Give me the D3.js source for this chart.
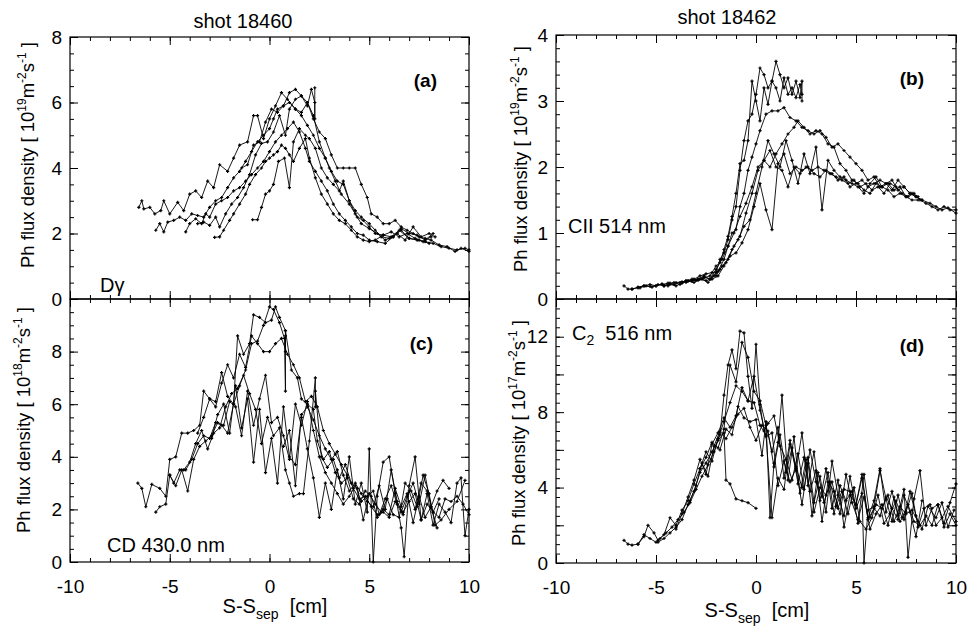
<!DOCTYPE html>
<html><head><meta charset="utf-8">
<script src="https://cdn.jsdelivr.net/npm/d3@7"></script>
<style>
body{margin:0;background:#fff;}
text{font-family:"Liberation Sans",Arial,Helvetica,sans-serif;fill:#000;}
</style>
</head><body>
<svg id="chart" width="970" height="629"></svg>
<script>
// ---------- tick values ----------
const xMajorTicks = [-10, -5, 0, 5, 10];
const yTicksA = [0, 2, 4, 6, 8];
const yTicksB = [0, 1, 2, 3, 4];
const yTicksC = [0, 2, 4, 6, 8];
const yTicksD = [0, 4, 8, 12];

// ---------- panel (a): D-gamma, shot 18460 ----------
const dgX = [
 [-6.55,-6.4,-6.3,-6.0,-5.75,-5.45,-5.3,-5.0,-4.6,-4.3,-4.0,-3.7,-3.4,-3.1,-2.8,-2.5,-2.1,-1.8,-1.5,-1.1,-0.8,-0.6,-0.3,0.0,0.3,0.6,0.9,1.3,1.6,1.9,2.2,2.5,2.8,3.0,3.3,3.6,4.0,4.4,4.7,5.0,5.3,5.7,6.1,6.5,7.0,7.4,7.8,8.2,8.6,9.0,9.4,9.8,10.0],
 [-5.7,-5.5,-5.3,-5.1,-4.8,-4.5,-4.2,-3.9,-3.6,-3.3,-3.0,-2.7,-2.4,-2.1,-1.8,-1.5,-1.2,-0.9,-0.6,-0.3,0.0,0.2,0.4,0.7,1.0,1.3,1.6,1.9,2.2,2.5,2.8,3.1,3.4,3.7,4.0,4.3,4.6,5.0,5.3,5.6,6.0,6.4,6.8,7.2,7.6,8.0,8.3],
 [-4.2,-4.0,-3.7,-3.4,-3.2,-3.0,-2.7,-2.4,-2.1,-1.8,-1.5,-1.2,-0.9,-0.6,-0.3,0.0,0.3,0.6,0.9,1.2,1.5,1.8,2.0,2.3,2.6,2.9,3.2,3.5,3.8,4.1,4.4,4.7,5.0,5.4,5.8,6.2,6.6,7.0,7.5,8.0],
 [-2.75,-2.5,-2.3,-2.0,-1.8,-1.5,-1.2,-1.0,-0.7,-0.4,-0.2,0.0,0.2,0.4,0.6,0.8,1.0,1.2,1.5,1.8,2.0,2.3,2.6,2.9,3.2,3.5,3.8,4.1,4.4,4.7,5.0,5.3,5.7,6.1,6.5,6.9,7.3,7.7,8.1],
 [-0.85,-0.6,-0.4,-0.2,0.0,0.2,0.45,0.75,1.0,1.2,1.5,1.8,2.0,2.3,2.6,2.9,3.2,3.5,3.7,4.0,4.3,4.6,5.0,5.4,5.8,6.2,6.6,7.0,7.4,7.8,8.2],
 [-3.6,-3.3,-3.0,-2.7,-2.5,-2.2,-1.9,-1.6,-1.3,-1.0,-0.7,-0.4,-0.1,0.2,0.5,0.8,1.0,1.3,1.6,1.9,2.1,2.27,2.27,2.27],
 [-1.4,-1.1,-0.8,-0.5,-0.2,0.1,0.4,0.7,1.0,1.3,1.6,1.9,2.2,2.5,2.8,3.1,3.4,3.7,4.0,4.3,4.6,4.9,5.1,5.4,5.7,6.0,6.3,6.6,6.9,7.2,7.5,7.8,8.1,8.5,8.9,9.3,9.6,10.0]
];
const dgY = [
 [2.8,3.0,2.75,2.8,2.6,2.7,3.0,2.6,2.95,2.7,3.2,3.3,3.1,3.6,3.4,4.1,3.9,4.3,4.7,4.8,5.6,5.6,4.9,5.5,5.9,6.3,6.1,5.8,5.6,5.3,5.0,4.6,4.3,4.0,3.6,3.2,2.9,2.5,2.4,2.2,2.0,1.95,1.9,2.1,1.85,1.8,1.75,1.7,1.6,1.55,1.5,1.55,1.5],
 [2.1,2.3,2.05,2.35,2.4,2.5,2.4,2.6,2.55,2.5,2.8,3.0,3.1,3.4,3.7,3.9,4.2,4.5,4.8,5.0,5.2,5.5,5.8,5.9,6.3,6.4,6.2,6.0,5.6,4.8,4.3,3.9,3.6,3.5,3.0,2.7,2.5,2.3,2.1,1.9,1.85,2.0,1.8,2.2,1.9,2.0,1.9],
 [2.05,2.3,2.45,2.3,2.6,2.5,2.9,3.0,3.1,3.3,3.4,3.6,3.8,4.0,4.2,4.5,4.8,5.0,5.2,5.4,5.1,4.6,4.2,3.9,3.6,3.3,2.9,2.6,2.4,2.2,2.0,1.95,1.8,1.75,1.7,1.9,2.1,1.85,1.8,1.7],
 [1.88,1.9,2.1,2.4,2.6,2.9,3.2,3.5,3.8,4.0,4.2,4.3,4.4,4.5,4.7,4.6,4.4,4.2,4.6,4.9,4.3,3.7,3.2,2.9,2.6,2.4,2.3,2.1,1.9,1.8,1.75,1.8,1.95,2.05,1.9,2.0,1.85,1.75,1.9],
 [2.42,2.42,2.8,3.2,3.3,3.5,4.2,4.3,3.4,4.8,5.2,5.0,4.9,4.6,4.0,3.7,3.5,3.3,3.6,3.0,2.6,2.3,2.15,2.0,1.8,1.9,2.15,2.0,1.95,1.8,2.0],
 [2.3,2.35,2.25,2.5,2.2,2.6,2.9,3.1,3.4,3.8,4.4,4.75,4.8,5.1,5.6,5.0,5.8,6.1,6.2,5.9,6.4,6.0,5.5,6.45],
 [4.0,4.1,4.7,4.8,5.4,5.8,5.7,5.9,6.0,5.8,5.7,6.0,5.5,5.1,4.9,4.4,4.0,4.0,4.0,4.0,3.5,3.1,2.6,2.5,2.3,2.3,2.4,2.2,2.1,2.0,1.9,1.85,1.8,1.65,1.6,1.45,1.55,1.45]
];

// ---------- panel (b): CII 514 nm, shot 18462 ----------
const ciiX = [
 [-6.6,-6.4,-6.2,-5.9,-5.6,-5.3,-5.0,-4.7,-4.4,-4.1,-3.8,-3.5,-3.2,-2.9,-2.6,-2.3,-2.0,-1.8,-1.6,-1.4,-1.2,-1.0,-0.8,-0.6,-0.4,-0.2,0.0,0.2,0.4,0.6,0.8,1.0,1.2,1.4,1.6,1.8,2.0,2.2,2.3,2.3],
 [-6.2,-5.9,-5.6,-5.3,-5.0,-4.7,-4.4,-4.1,-3.8,-3.5,-3.2,-2.9,-2.6,-2.3,-2.0,-1.8,-1.6,-1.4,-1.2,-1.0,-0.8,-0.6,-0.4,-0.2,0.0,0.2,0.4,0.6,0.8,1.0,1.2,1.4,1.6,1.8,2.0,2.2,2.3],
 [-5.8,-5.5,-5.2,-4.9,-4.6,-4.3,-4.0,-3.7,-3.4,-3.1,-2.8,-2.5,-2.2,-1.9,-1.6,-1.4,-1.2,-1.0,-0.8,-0.6,-0.4,-0.2,0.0,0.2,0.5,0.8,1.1,1.4,1.7,2.0,2.3,2.6,2.9,3.2,3.5,3.8,4.1,4.4,4.7,5.0,5.3,5.6,5.9,6.2,6.5,6.8,7.1,7.4,7.7,8.0,8.3],
 [-4.6,-4.3,-4.0,-3.7,-3.4,-3.1,-2.8,-2.5,-2.2,-1.9,-1.6,-1.3,-1.0,-0.7,-0.4,-0.1,0.2,0.5,0.8,1.1,1.4,1.7,2.0,2.3,2.6,2.9,3.2,3.5,3.8,4.1,4.4,4.7,5.0,5.3,5.6,5.9,6.2,6.5,6.8,7.1,7.4,7.7,8.0,8.3,8.7,9.0,9.3,9.6,10.0],
 [-3.0,-2.7,-2.4,-2.1,-1.8,-1.5,-1.2,-0.9,-0.6,-0.3,0.0,0.3,0.6,0.9,1.2,1.5,1.8,2.1,2.4,2.7,3.0,3.3,3.6,3.9,4.2,4.5,4.8,5.1,5.4,5.7,6.0,6.3,6.6,6.9,7.2,7.5,7.8,8.1],
 [-3.5,-3.2,-2.9,-2.6,-2.3,-2.0,-1.7,-1.4,-1.1,-0.8,-0.5,-0.2,0.1,0.4,0.7,1.0,1.3,1.6,1.9,2.2,2.5,2.8,3.1,3.4,3.7,4.0,4.3,4.6,4.9,5.2,5.5,5.8,6.1,6.4,6.7,7.0,7.3,7.6,7.9,8.2,8.5,8.8,9.1,9.4,9.7,10.0],
 [-2.0,-1.7,-1.4,-1.1,-0.8,-0.5,-0.2,0.1,0.4,0.7,1.0,1.3,1.6,1.9,2.1,2.4,2.7,3.0,3.3,3.6,3.9,4.2,4.5,4.8,5.1,5.4,5.7,6.0,6.3,6.6,6.9,7.2,7.5,7.8,8.1]
];
const ciiY = [
 [0.2,0.15,0.15,0.17,0.2,0.22,0.2,0.23,0.2,0.25,0.22,0.28,0.27,0.3,0.35,0.3,0.4,0.6,0.7,0.9,1.2,1.4,1.95,2.4,2.7,2.8,3.1,3.5,3.4,3.2,3.3,3.6,3.4,3.2,3.35,3.1,3.3,3.05,3.3,3.0],
 [0.15,0.18,0.2,0.19,0.2,0.22,0.24,0.22,0.25,0.27,0.3,0.28,0.32,0.35,0.5,0.55,0.75,0.95,1.25,1.6,2.05,2.1,2.4,3.3,3.0,2.7,3.2,2.95,3.3,3.2,3.0,3.35,3.1,3.2,3.05,3.25,3.1],
 [0.17,0.2,0.18,0.22,0.2,0.24,0.25,0.26,0.28,0.3,0.35,0.38,0.4,0.42,0.6,0.8,1.0,1.05,1.4,1.6,1.95,2.15,2.35,2.55,2.8,2.85,2.85,2.9,2.75,2.7,2.6,2.55,2.5,2.55,2.45,2.3,2.35,2.25,2.15,2.05,1.95,1.8,1.85,1.7,1.75,1.65,1.8,1.7,1.6,1.55,1.5],
 [0.2,0.22,0.2,0.24,0.27,0.25,0.3,0.28,0.3,0.35,0.5,0.65,0.7,0.85,1.05,1.4,1.75,1.35,1.05,2.05,2.2,1.9,2.0,1.95,2.0,1.9,1.85,1.95,1.9,1.8,1.85,1.7,1.75,1.8,1.7,1.75,1.8,1.75,1.8,1.65,1.7,1.6,1.55,1.5,1.45,1.4,1.35,1.38,1.3],
 [0.28,0.3,0.25,0.35,0.45,0.55,0.75,0.9,1.1,1.2,1.6,2.0,2.4,2.2,2.0,2.4,2.1,1.75,2.2,1.9,2.3,1.35,2.1,1.95,1.85,1.8,1.75,1.7,1.6,1.75,1.85,1.7,1.75,1.65,1.7,1.55,1.6,1.55],
 [0.25,0.28,0.3,0.33,0.3,0.45,0.6,0.8,1.0,1.25,1.45,1.7,2.0,2.1,2.25,2.0,1.95,1.7,2.0,1.9,2.0,1.95,2.0,1.95,1.9,1.85,1.8,1.75,1.8,1.7,1.75,1.65,1.7,1.6,1.75,1.7,1.6,1.55,1.6,1.5,1.45,1.4,1.35,1.4,1.35,1.35],
 [0.35,0.5,0.6,0.8,0.95,1.3,1.6,1.95,2.1,2.0,2.2,2.35,2.5,2.6,2.7,2.6,2.5,2.55,2.5,2.35,2.3,2.05,1.95,1.8,1.75,1.65,1.6,1.75,1.7,1.65,1.55,1.6,1.55,1.5,1.5]
];

// ---------- panel (c): CD 430.0 nm, shot 18460 ----------
const cdX = [
 [-6.6,-6.4,-6.2,-5.9,-5.5,-5.2,-5.0,-4.7,-4.4,-4.1,-3.8,-3.5,-3.3,-3.0,-2.7,-2.4,-2.1,-1.8,-1.6,-1.3,-1.0,-0.8,-0.5,-0.2,0.1,0.3,0.5,0.8,0.8,0.8],
 [-5.7,-5.5,-5.2,-5.0,-4.8,-4.5,-4.2,-3.9,-3.6,-3.3,-3.0,-2.7,-2.4,-2.1,-1.8,-1.5,-1.2,-0.9,-0.6,-0.3,0.0,0.2,0.5,0.75,0.8,0.8,1.1,1.4,1.6,1.9,2.2,2.4,2.7,3.0,3.3,3.6,3.9,4.2,4.5,4.8,5.1,5.4,5.7,6.0,6.3,6.6,6.9,7.2,7.5,7.8,8.1,8.4],
 [-5.0,-4.7,-4.4,-4.1,-3.8,-3.5,-3.2,-2.9,-2.6,-2.3,-2.0,-1.7,-1.4,-1.1,-0.8,-0.5,-0.2,0.1,0.4,0.7,1.0,1.3,1.6,1.9,2.2,2.5,2.8,3.1,3.4,3.7,4.0,4.3,4.6,4.9,5.2,5.5,5.8,6.1,6.4,6.7,7.0,7.3,7.6,7.9,8.2,8.5,8.8,9.1,9.4,9.7,10.0],
 [-4.3,-4.0,-3.7,-3.4,-3.1,-2.8,-2.5,-2.2,-1.9,-1.6,-1.3,-1.0,-0.7,-0.4,-0.1,0.2,0.5,0.8,1.0,1.2,1.5,1.7,2.0,2.3,2.3,2.3,2.6,2.9,3.2,3.5,3.8,4.1,4.4,4.7,5.0,5.3,5.6,5.9,6.2,6.5,6.8,7.1,7.4,7.7,8.0,8.3,8.6,9.0,9.4,9.8],
 [-2.9,-2.6,-2.3,-2.0,-1.7,-1.4,-1.1,-0.8,-0.5,-0.2,0.1,0.4,0.7,1.0,1.3,1.6,1.9,2.2,2.5,2.8,3.1,3.4,3.7,4.0,4.3,4.6,4.9,5.0,5.2,5.4,5.7,6.0,6.3,6.6,6.75,7.0,7.3,7.6,7.9,8.2,8.5,8.8,9.1,9.4,9.6,9.8,10.0],
 [-3.6,-3.3,-3.0,-2.7,-2.4,-2.1,-1.8,-1.5,-1.2,-0.9,-0.6,-0.3,0.0,0.3,0.6,0.9,1.2,1.5,1.8,2.1,2.4,2.7,3.0,3.3,3.6,3.9,4.2,4.5,4.8,5.1,5.4,5.7,6.0,6.3,6.6,6.9,7.2,7.5,7.8,8.1,8.4,8.7,9.0],
 [0.7,1.0,1.3,1.6,1.9,2.2,2.5,2.8,3.1,3.4,3.7,4.0,4.3,4.6,4.9,5.2,5.5,5.8,6.1,6.4,6.7,7.0,7.3,7.6,7.9,8.2,8.5]
];
const cdY = [
 [3.0,2.8,2.1,2.95,2.8,2.5,3.9,4.0,4.9,4.9,5.0,5.2,6.5,6.2,6.1,7.2,6.3,6.0,8.6,7.9,8.3,9.4,9.3,9.1,9.2,9.7,9.3,8.8,8.0,8.6],
 [1.9,2.1,2.2,3.3,3.0,3.5,3.5,3.9,4.5,4.8,4.7,5.3,5.2,4.9,6.0,6.7,7.3,8.3,8.4,9.0,9.7,9.6,9.1,8.5,6.5,8.8,7.3,7.0,6.2,6.0,5.8,4.6,3.9,4.2,3.4,3.0,3.2,2.4,2.2,2.7,2.5,1.7,2.0,1.8,2.8,2.1,2.6,1.5,2.5,1.7,2.1,1.3],
 [3.3,2.9,3.5,2.7,3.9,4.4,4.6,4.8,5.3,5.2,6.1,5.9,4.8,6.5,5.2,6.2,7.1,5.3,5.5,4.8,3.9,6.0,5.2,6.1,5.0,4.0,3.4,3.0,2.6,2.2,2.5,2.9,2.3,2.5,2.7,1.8,2.4,2.9,2.2,1.9,2.3,2.6,1.6,2.2,1.9,1.7,2.4,2.3,2.5,2.2,1.8],
 [3.5,3.8,4.5,5.0,4.3,4.9,5.1,5.9,6.4,6.6,7.1,6.4,5.8,4.5,5.5,4.8,5.1,3.5,3.0,2.5,2.6,2.6,4.6,7.0,5.9,6.5,4.0,3.6,3.9,3.2,3.7,3.0,2.8,1.6,2.6,2.2,1.9,2.4,1.8,1.7,3.0,2.7,2.1,3.3,2.6,1.4,1.6,2.0,2.3,3.1],
 [4.7,5.6,6.0,4.9,6.7,5.1,6.2,3.8,5.8,3.4,4.7,3.0,5.9,4.0,3.7,5.5,4.3,3.2,1.7,3.0,2.0,3.5,2.4,4.0,2.2,3.0,1.9,4.3,0.0,2.5,3.8,4.0,2.6,1.3,0.2,2.9,4.0,1.6,2.6,1.4,2.2,1.9,1.5,3.0,3.2,1.0,2.0],
 [4.9,5.5,6.2,5.9,6.8,7.5,7.0,7.9,7.4,8.6,8.3,8.0,8.0,8.3,8.5,7.9,7.5,7.0,6.1,6.3,5.9,5.0,4.5,4.1,3.7,3.3,2.8,2.4,2.5,2.1,1.8,1.9,1.7,2.3,1.9,2.5,3.0,2.2,3.3,2.1,2.7,3.1,2.8],
 [4.4,5.0,2.9,5.6,5.9,5.4,4.8,4.3,3.9,4.2,3.3,2.7,3.0,2.6,2.3,2.1,2.9,2.0,3.5,2.3,1.8,2.7,2.0,3.0,2.7,1.9,2.4]
];

// ---------- panel (d): C2 516 nm, shot 18462 ----------
const c2X = [
 [-6.6,-6.4,-6.2,-5.9,-5.6,-5.3,-5.0,-4.8,-4.5,-4.2,-3.9,-3.6,-3.3,-3.0,-2.7,-2.4,-2.1,-1.8,-1.6,-1.4,-1.2,-1.0,-0.8,-0.6,-0.4,-0.2,0.0,0.2,0.4,0.6,0.9,1.2,1.5,1.8,2.1,2.4,2.7,3.0,3.3,3.6,3.9,4.2,4.5,4.8,5.1,5.4,5.7,6.0,6.3,6.6,6.9,7.2,7.5,7.8,8.1],
 [-5.9,-5.6,-5.4,-5.1,-4.9,-4.6,-4.3,-4.0,-3.7,-3.4,-3.1,-2.8,-2.5,-2.2,-1.9,-1.6,-1.3,-1.0,-0.7,-0.4,-0.1,0.2,0.5,0.8,1.1,1.4,1.7,2.0,2.3,2.6,2.9,3.2,3.5,3.8,4.1,4.4,4.7,5.0,5.3,5.4,5.6,5.9,6.2,6.5,6.8,7.1,7.4,7.7,8.0,8.3,8.6,9.0,9.3,9.6,9.9],
 [-4.9,-4.6,-4.3,-4.0,-3.7,-3.4,-3.1,-2.8,-2.5,-2.2,-1.9,-1.6,-1.5,-1.3,-1.0,-0.7,-0.4,0.0],
 [-4.0,-3.7,-3.4,-3.1,-2.8,-2.5,-2.2,-1.9,-1.6,-1.3,-1.0,-0.7,-0.4,-0.1,0.2,0.5,0.8,1.1,1.4,1.7,2.0,2.3,2.6,2.9,3.2,3.5,3.8,4.1,4.4,4.7,5.0,5.3,5.6,5.9,6.2,6.5,6.8,7.1,7.4,7.6,7.9,8.2,8.5,8.8,9.1,9.4,9.7,10.0],
 [-3.3,-3.0,-2.7,-2.4,-2.1,-1.8,-1.5,-1.2,-0.9,-0.6,-0.3,0.0,0.3,0.6,0.9,1.2,1.5,1.8,2.1,2.4,2.7,3.0,3.3,3.6,3.9,4.2,4.5,4.8,5.1,5.4,5.7,6.0,6.3,6.6,6.9,7.2,7.5,7.8,8.1,8.4,8.7,9.0,9.3,9.6,10.0],
 [-2.8,-2.5,-2.2,-1.9,-1.6,-1.3,-1.0,-0.7,-0.4,-0.1,0.2,0.5,0.8,1.1,1.4,1.7,2.0,2.3,2.6,2.9,3.2,3.5,3.8,4.1,4.4,4.7,5.0,5.3,5.6,5.9,6.2,6.5,6.8,7.1,7.4,7.7,8.0,8.3],
 [-1.8,-1.5,-1.2,-0.9,-0.6,-0.3,0.0,0.3,0.5,0.7,0.9,1.1,1.3,1.6,1.9,2.2,2.5,2.8,3.1,3.4,3.7,4.0,4.3,4.6,4.9,5.2,5.5,5.8,6.1,6.4,6.7,7.0,7.3,7.6,7.9,8.2,8.5,8.8,9.1,9.4,9.7,10.0]
];
const c2Y = [
 [1.2,1.0,0.95,1.0,1.5,1.3,1.1,1.3,1.6,1.9,2.3,2.7,3.2,3.9,4.6,5.2,5.9,6.8,8.9,10.5,11.3,10.3,12.3,12.2,9.9,8.2,11.6,8.4,7.0,7.4,7.8,6.2,5.5,4.4,5.8,3.9,6.0,4.3,3.5,4.8,2.6,4.1,3.3,3.8,2.1,4.7,2.4,3.1,2.9,3.6,2.2,3.0,2.6,2.8,2.2],
 [1.0,1.4,2.0,1.6,1.2,1.5,2.4,2.0,2.8,3.3,4.2,5.0,5.6,6.4,6.1,7.1,10.5,9.6,11.7,10.9,9.1,8.6,7.3,5.9,7.2,4.5,6.5,5.1,4.0,5.6,3.2,4.6,2.7,5.4,3.6,2.5,4.6,2.9,3.7,0.0,2.8,3.0,4.9,3.4,2.2,3.6,2.3,3.8,2.5,1.8,3.0,2.4,3.2,1.9,2.8],
 [1.1,1.3,1.6,1.9,2.3,3.1,3.8,4.8,5.3,5.9,6.5,6.9,4.4,4.2,3.4,3.3,3.2,2.9],
 [1.8,2.6,3.5,4.4,5.5,4.7,6.3,6.9,7.7,7.2,7.8,9.3,8.6,8.5,7.3,6.8,2.4,4.5,3.9,6.3,4.9,6.9,4.1,5.9,3.3,5.0,2.9,4.4,1.9,3.6,3.1,4.7,2.4,3.3,5.0,2.7,3.8,2.5,3.9,0.3,3.4,4.9,2.0,2.9,3.1,2.1,3.2,4.2],
 [3.3,4.1,5.3,4.6,6.2,7.0,6.6,7.2,7.9,8.2,7.2,6.5,7.3,7.0,5.1,6.8,4.8,6.1,4.2,5.6,3.8,4.9,2.2,4.3,3.8,2.6,4.7,3.2,2.3,3.5,1.8,2.6,3.1,2.0,3.5,2.2,2.7,3.7,1.9,2.9,3.1,2.0,2.4,3.0,2.2],
 [5.0,5.9,5.4,6.6,7.5,8.5,9.4,9.1,8.6,9.9,8.1,6.7,6.9,4.1,5.4,4.3,5.0,3.1,5.3,2.7,4.0,3.6,4.3,2.9,3.9,3.8,3.1,4.5,2.3,2.9,2.5,3.5,2.9,2.3,3.6,2.7,1.4,3.3],
 [6.0,7.1,6.8,8.3,7.7,7.5,7.6,5.7,7.5,2.4,5.3,6.4,8.9,4.4,6.7,3.7,5.5,2.5,4.8,3.2,4.3,3.0,3.8,2.6,4.0,2.2,1.8,2.4,3.6,2.1,2.6,3.3,2.4,3.1,2.2,2.0,2.5,2.0,3.1,1.9,2.6,2.0]
];

// ---------- drawing ----------
const svg = d3.select("#chart");
const FONT = '"Liberation Sans", Arial, Helvetica, sans-serif';
const TICK_FONT = 19;

function range(a, b, s) { const r = []; for (let v = a; v <= b + 1e-9; v += s) r.push(+v.toFixed(6)); return r; }
const intFmt = d => (d < 0 ? "-" + Math.abs(d) : String(d));

function drawPanel(cfg) {
  const g = svg.append("g");
  const x = d3.scaleLinear().domain([-10, 10]).range([cfg.left, cfg.right]);
  const y = d3.scaleLinear().domain(cfg.yDomain).range([cfg.bottom, cfg.top]);
  const xMinor = range(-10, 10, 1);
  const yMinor = range(cfg.yDomain[0], cfg.yDomain[1], cfg.yMinorStep);
  const yMajor = range(cfg.yDomain[0], cfg.yDomain[1], cfg.yMajorStep);

  function axisLayer(axis, tr) {
    const a = g.append("g").attr("transform", tr).call(axis);
    a.select(".domain").remove();
    a.selectAll("line").attr("stroke", "#000").attr("stroke-width", 1);
    a.selectAll("text").attr("font-family", FONT).attr("font-size", TICK_FONT).attr("fill", "#000");
    return a;
  }
  // bottom
  axisLayer(d3.axisBottom(x).tickValues(xMinor).tickSize(-4).tickFormat(""), `translate(0,${cfg.bottom})`);
  axisLayer(d3.axisBottom(x).tickValues(xMajorTicks).tickSize(-8).tickPadding(18)
      .tickFormat(cfg.xLabels ? intFmt : () => ""), `translate(0,${cfg.bottom})`);
  // top
  axisLayer(d3.axisTop(x).tickValues(xMinor).tickSize(-4).tickFormat(""), `translate(0,${cfg.top})`);
  axisLayer(d3.axisTop(x).tickValues(xMajorTicks).tickSize(-8).tickFormat(""), `translate(0,${cfg.top})`);
  // left
  axisLayer(d3.axisLeft(y).tickValues(yMinor).tickSize(-4).tickFormat(""), `translate(${cfg.left},0)`);
  axisLayer(d3.axisLeft(y).tickValues(yMajor).tickSize(-8).tickFormat(""), `translate(${cfg.left},0)`);
  axisLayer(d3.axisLeft(y).tickValues(cfg.yLabels).tickSize(0).tickPadding(cfg.labelPad).tickFormat(intFmt),
      `translate(${cfg.left},0)`);
  // right
  axisLayer(d3.axisRight(y).tickValues(yMinor).tickSize(-4).tickFormat(""), `translate(${cfg.right},0)`);
  axisLayer(d3.axisRight(y).tickValues(yMajor).tickSize(-8).tickFormat(""), `translate(${cfg.right},0)`);
  // frame
  g.append("rect").attr("x", cfg.left).attr("y", cfg.top)
    .attr("width", cfg.right - cfg.left).attr("height", cfg.bottom - cfg.top)
    .attr("fill", "none").attr("stroke", "#000").attr("stroke-width", 1.2);

  // data
  const line = d3.line().x(d => x(d[0])).y(d => y(d[1]));
  cfg.xs.forEach((xs, i) => {
    const pts = xs.map((v, j) => [v, cfg.ys[i][j]]);
    g.append("path").attr("d", line(pts)).attr("fill", "none")
      .attr("stroke", "#000").attr("stroke-width", 0.9).attr("stroke-linejoin", "round");
    g.selectAll(null).data(pts).enter().append("path")
      .attr("transform", d => `translate(${x(d[0])},${y(d[1])})`)
      .attr("d", "M-1.6,0H1.6M0,-1.6V1.6")
      .attr("stroke", "#000").attr("stroke-width", 1.2);
  });
  return { g, x, y };
}

function yTitle(cx, cy, exp) {
  const t = svg.append("text")
    .attr("transform", `translate(${cx},${cy}) rotate(-90)`)
    .attr("text-anchor", "middle").attr("font-size", 18.5).attr("font-family", FONT);
  t.append("tspan").text("Ph flux density [ 10");
  t.append("tspan").attr("dy", -8).attr("font-size", 12).text(exp);
  t.append("tspan").attr("dy", 8).text("m");
  t.append("tspan").attr("dy", -8).attr("font-size", 12).text("-2");
  t.append("tspan").attr("dy", 8).text("s");
  t.append("tspan").attr("dy", -8).attr("font-size", 12).text("-1");
  t.append("tspan").attr("dy", 8).text(" ]");
}
function xTitle(cx, cy) {
  const t = svg.append("text").attr("x", cx).attr("y", cy)
    .attr("text-anchor", "middle").attr("font-size", 20).attr("font-family", FONT);
  t.append("tspan").text("S-S");
  t.append("tspan").attr("dy", 6).attr("font-size", 14).text("sep");
  t.append("tspan").attr("dy", -6).text("\u00a0 [cm]");
}
function label(x, y, txt, opts = {}) {
  return svg.append("text").attr("x", x).attr("y", y)
    .attr("text-anchor", opts.anchor || "start")
    .attr("font-size", opts.size || 20).attr("font-weight", opts.bold ? "bold" : "normal")
    .attr("font-family", FONT).text(txt);
}

drawPanel({ left: 70, right: 469, top: 37, bottom: 299, yDomain: [0, 8], yMinorStep: 0.5, yMajorStep: 2,
  yLabels: yTicksA, labelPad: 8, xLabels: false, xs: dgX, ys: dgY });
drawPanel({ left: 556, right: 956, top: 35, bottom: 299, yDomain: [0, 4], yMinorStep: 0.2, yMajorStep: 1,
  yLabels: yTicksB, labelPad: 8, xLabels: false, xs: ciiX, ys: ciiY });
drawPanel({ left: 70, right: 469, top: 299, bottom: 562, yDomain: [0, 10], yMinorStep: 0.5, yMajorStep: 2,
  yLabels: yTicksC, labelPad: 8, xLabels: true, xs: cdX, ys: cdY });
drawPanel({ left: 556, right: 956, top: 299, bottom: 563, yDomain: [0, 14], yMinorStep: 0.5, yMajorStep: 2,
  yLabels: yTicksD, labelPad: 8, xLabels: true, xs: c2X, ys: c2Y });

// titles
label(243, 28, "shot 18460", { anchor: "middle", size: 20 });
label(727, 24, "shot 18462", { anchor: "middle", size: 20 });
yTitle(34, 155, "19");
yTitle(527, 159, "19");
yTitle(30, 420, "18");
yTitle(525, 433, "17");
xTitle(275, 613);
xTitle(757, 617);

// panel annotations
label(437, 87, "(a)", { anchor: "end", bold: true, size: 19 });
label(924, 85, "(b)", { anchor: "end", bold: true, size: 19 });
label(433, 350, "(c)", { anchor: "end", bold: true, size: 19 });
label(924, 352, "(d)", { anchor: "end", bold: true, size: 19 });
label(100, 292, "D\u03b3", { size: 20 });
label(568, 233, "CII 514 nm", { size: 20 });
label(107, 552, "CD 430.0 nm", { size: 20 });
const c2 = label(572, 340, "C", { size: 20 });
c2.append("tspan").attr("dy", 5).attr("font-size", 14).text("2");
c2.append("tspan").attr("dy", -5).text("\u00a0 516 nm");
</script>
</body></html>
